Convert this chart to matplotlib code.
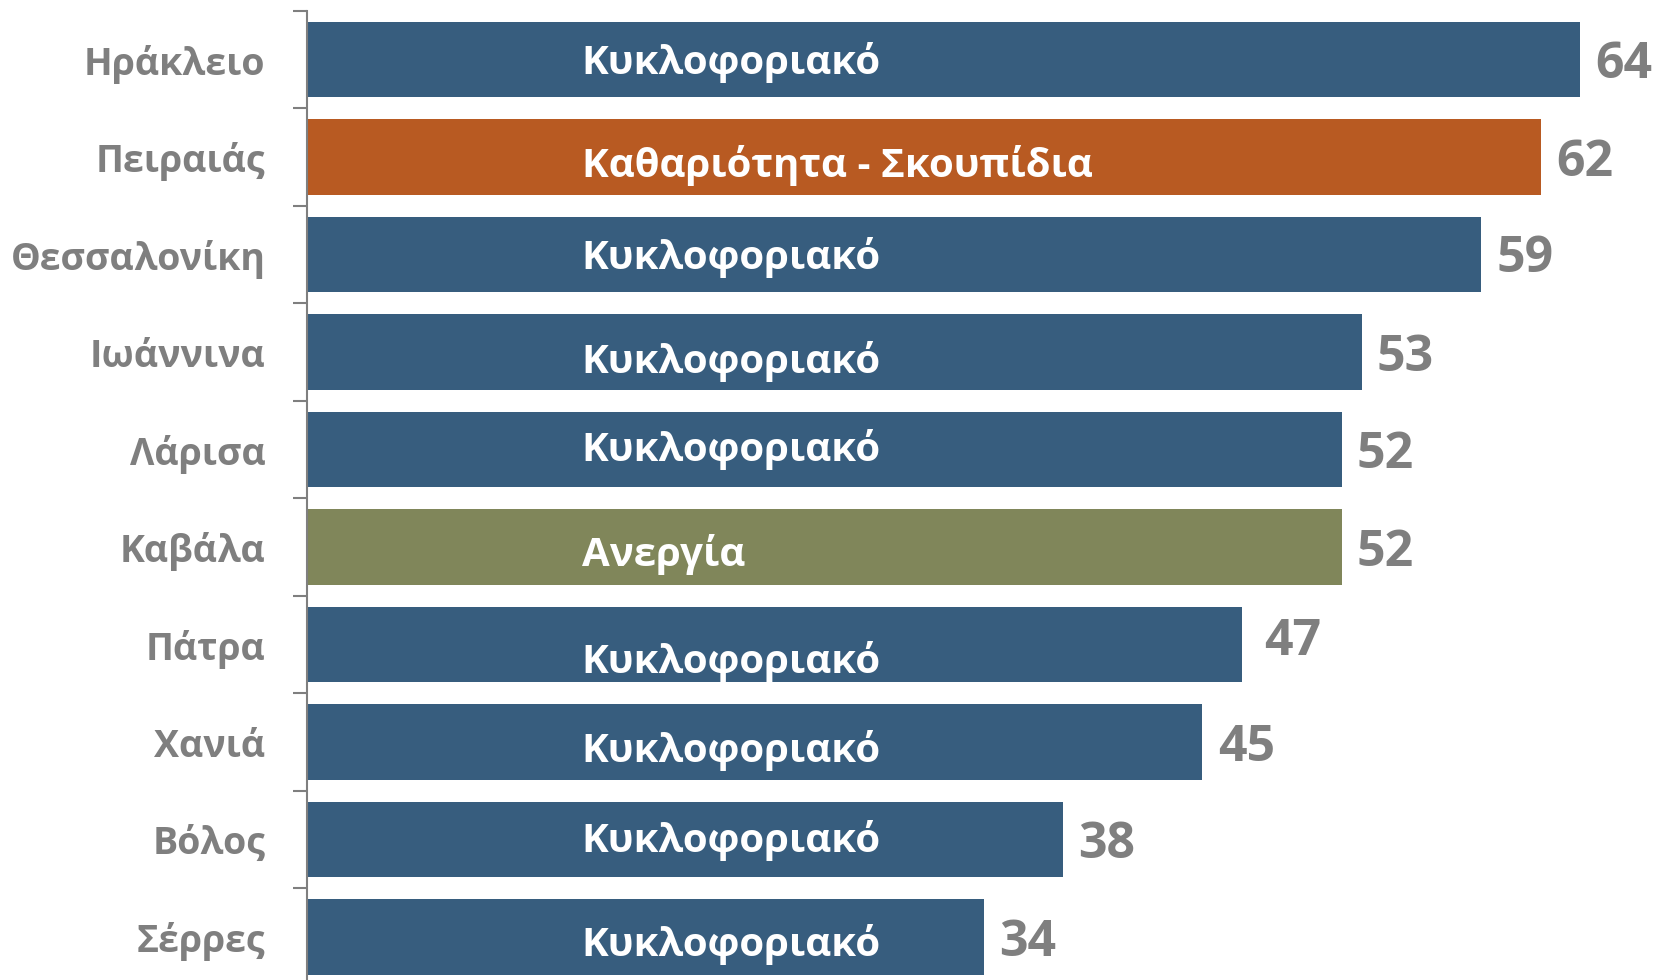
import matplotlib.pyplot as plt

plt.rcParams['font.family'] = ['Open Sans', 'DejaVu Sans']

# δεδομένα
cities = ["Ηράκλειο", "Πειραιάς", "Θεσσαλονίκη", "Ιωάννινα", "Λάρισα",
          "Καβάλα", "Πάτρα", "Χανιά", "Βόλος", "Σέρρες"]
values = [64, 62, 59, 53, 52, 52, 47, 45, 38, 34]
problems = ["Κυκλοφοριακό", "Καθαριότητα - Σκουπίδια", "Κυκλοφοριακό",
            "Κυκλοφοριακό", "Κυκλοφοριακό", "Ανεργία", "Κυκλοφοριακό",
            "Κυκλοφοριακό", "Κυκλοφοριακό", "Κυκλοφοριακό"]

problem_colors = {
    "Κυκλοφοριακό": "#375d7e",
    "Καθαριότητα - Σκουπίδια": "#b85a22",
    "Ανεργία": "#80865a",
}
# μικρές μετατοπίσεις των ετικετών (σε points), όπως στο πρωτότυπο
label_nudge = [-2, -6, -2, -7, 0, -5, -12, -6, -1, -5]
value_nudge = [-4, -4, -3, -4, -4, -4, 2, -4, -4, -4]
grey = "#7f7f7f"

fig = plt.figure(figsize=(16.6, 9.8), dpi=100)
ax = fig.add_axes([0.185, 0.0, 0.815, 0.989])

ypos = list(range(len(cities)))
colors = [problem_colors[p] for p in problems]
bars = ax.barh(ypos, values, height=0.775, color=colors)

for y, v, p, ln, vn in zip(ypos, values, problems, label_nudge, value_nudge):
    ax.annotate(p, (13.8, y), xytext=(0, ln), textcoords="offset points",
                ha="left", va="center", color="white", fontsize=29,
                fontweight="bold")
    extra = 5 if v == 47 else 0
    ax.annotate(str(v), (v, y), xytext=(11 + extra, vn), textcoords="offset points",
                ha="left", va="center", color=grey, fontsize=36,
                fontweight="bold")

ax.set_xlim(0, 68)
ax.set_ylim(len(cities) - 0.56, -0.5)
ax.set_yticks(ypos)
ax.set_yticklabels(cities, fontsize=27, fontweight="bold", color=grey)
ax.tick_params(axis="y", which="major", length=0, pad=30)
ax.set_yticks([i - 0.5 for i in range(len(cities))], minor=True)
ax.tick_params(axis="y", which="minor", length=10, width=1.5, color=grey)
ax.set_xticks([])
for s in ["top", "right", "bottom"]:
    ax.spines[s].set_visible(False)
ax.spines["left"].set_color(grey)
ax.spines["left"].set_linewidth(1.5)

fig.savefig("out.png", dpi=100)
